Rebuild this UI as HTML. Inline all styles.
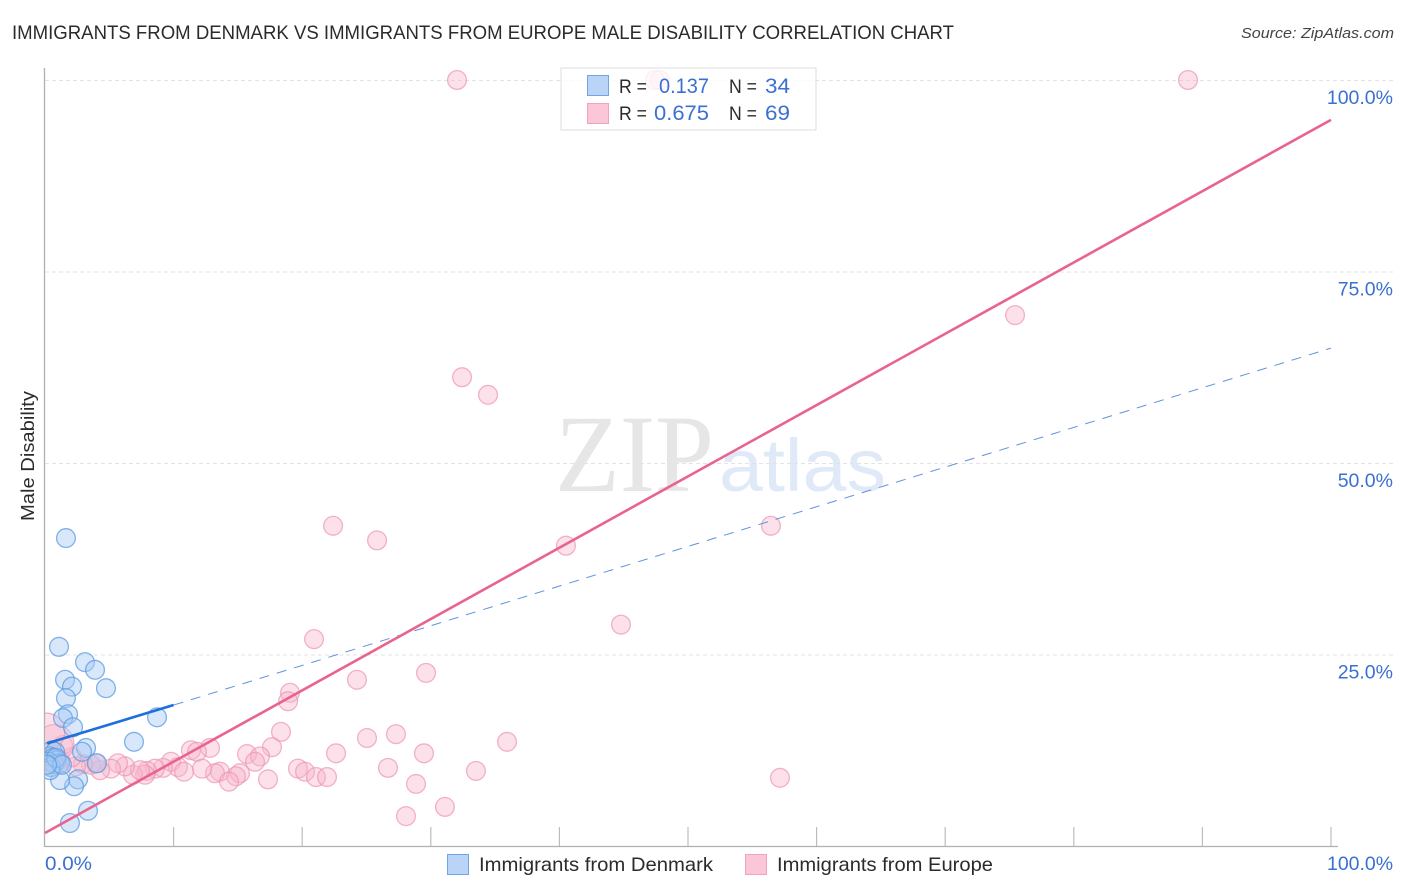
<!DOCTYPE html>
<html lang="en">
<head>
<meta charset="utf-8">
<title>Immigrants from Denmark vs Immigrants from Europe Male Disability Correlation Chart</title>
<style>
  html, body { margin: 0; padding: 0; background: #fff; }
  svg { display: block; font-family: "Liberation Sans", sans-serif; }
</style>
</head>
<body>
<svg id="chart" width="1406" height="892" viewBox="0 0 1406 892" xmlns="http://www.w3.org/2000/svg">
  <defs>
    <clipPath id="plot-clip"><rect x="45" y="60" width="1300" height="786"></rect></clipPath>
  </defs>
  <rect x="0" y="0" width="1406" height="892" fill="#ffffff"></rect>
  <text x="12" y="39" font-size="19.5" fill="#2b2b2b" textLength="942" lengthAdjust="spacingAndGlyphs">IMMIGRANTS FROM DENMARK VS IMMIGRANTS FROM EUROPE MALE DISABILITY CORRELATION CHART</text>
  <text x="1241" y="38" font-size="15" font-style="italic" fill="#444444" textLength="153" lengthAdjust="spacingAndGlyphs">Source: ZipAtlas.com</text>
  <g>
    <text x="555" y="491" font-family="'Liberation Serif', serif" font-size="110" fill="#e6e6e6" textLength="159" lengthAdjust="spacingAndGlyphs">ZIP</text>
    <text x="719" y="491" font-size="74" fill="#dfe9f7" textLength="167" lengthAdjust="spacingAndGlyphs">atlas</text>
  </g>
  <g id="grid"></g>
  <g id="axes"></g>
  <g id="points" clip-path="url(#plot-clip)"></g>
  <g id="trends"></g>
  <text transform="translate(34 456) rotate(-90)" text-anchor="middle" font-size="18.5" fill="#2b2b2b" textLength="130" lengthAdjust="spacingAndGlyphs">Male Disability</text>
  <g>
    <rect x="561" y="68" width="255" height="62" fill="#ffffff" fill-opacity="0.8" stroke="#dddddd" stroke-width="1"></rect>
    <rect x="587.5" y="75.5" width="21" height="20" fill="#b9d4f7" stroke="#6fa5e6"></rect>
    <rect x="587.5" y="103.5" width="21" height="20" fill="#fbc7d8" stroke="#efa4bd"></rect>
    <text x="619" y="93" font-size="19" fill="#2b2b2b" textLength="28" lengthAdjust="spacingAndGlyphs">R =</text>
    <text x="659" y="93" font-size="21" fill="#3a70d2" textLength="50" lengthAdjust="spacingAndGlyphs">0.137</text>
    <text x="729" y="93" font-size="19" fill="#2b2b2b" textLength="28" lengthAdjust="spacingAndGlyphs">N =</text>
    <text x="765" y="93" font-size="21" fill="#3a70d2" textLength="25" lengthAdjust="spacingAndGlyphs">34</text>
    <text x="619" y="120" font-size="19" fill="#2b2b2b" textLength="28" lengthAdjust="spacingAndGlyphs">R =</text>
    <text x="654" y="120" font-size="21" fill="#3a70d2" textLength="55" lengthAdjust="spacingAndGlyphs">0.675</text>
    <text x="729" y="120" font-size="19" fill="#2b2b2b" textLength="28" lengthAdjust="spacingAndGlyphs">N =</text>
    <text x="765" y="120" font-size="21" fill="#3a70d2" textLength="25" lengthAdjust="spacingAndGlyphs">69</text>
  </g>
  <g>
    <rect x="447.5" y="854.5" width="21" height="20" fill="#b9d4f7" stroke="#6fa5e6"></rect>
    <text x="479" y="871" font-size="19.5" fill="#2b2b2b" textLength="234" lengthAdjust="spacingAndGlyphs">Immigrants from Denmark</text>
    <rect x="745.5" y="854.5" width="21" height="20" fill="#fbc7d8" stroke="#efa4bd"></rect>
    <text x="777" y="871" font-size="19.5" fill="#2b2b2b" textLength="216" lengthAdjust="spacingAndGlyphs">Immigrants from Europe</text>
  </g>
</svg>
<script>
const xTicks = [10, 20, 30, 40, 50, 60, 70, 80, 90, 100];
const yTicks = [25, 50, 75, 100];
const yTickLabels = ["25.0%", "50.0%", "75.0%", "100.0%"];
const xEndValues = [0, 100];
const xEndLabels = ["0.0%", "100.0%"];

const denmarkX = [1.63, 1.09, 3.11, 3.89, 4.74, 1.56, 2.10, 1.63, 1.79, 1.40, 8.71, 2.18, 6.92, 3.19, 2.88, 4.04, 2.57, 2.26, 1.17, 3.34, 1.94, 0.54, 0.78, 0.39, 0.62, 0.93, 0.31, 0.70, 1.17, 0.47, 0.39, 0.86, 1.32, 0.16];
const denmarkY = [40.2, 26.0, 24.0, 23.0, 20.6, 21.7, 20.8, 19.3, 17.2, 16.7, 16.8, 15.5, 13.6, 12.8, 12.3, 10.8, 8.7, 7.8, 8.6, 4.6, 3.0, 12.5, 12.3, 11.7, 11.5, 11.2, 11.0, 10.7, 10.8, 10.3, 9.9, 11.5, 10.6, 10.6];

const europeX = [32.04, 47.43, 47.82, 88.88, 75.43, 32.43, 34.45, 22.40, 25.82, 56.45, 40.51, 44.79, 20.92, 29.63, 24.26, 19.05, 18.90, 18.35, 27.29, 25.04, 35.93, 22.63, 29.47, 17.65, 12.83, 11.35, 11.82, 15.71, 16.72, 16.33, 9.80, 10.34, 26.67, 33.51, 19.67, 20.22, 21.07, 21.93, 57.15, 17.34, 15.16, 14.85, 13.61, 13.22, 14.31, 12.21, 10.81, 28.85, 31.10, 28.07, 9.18, 8.55, 7.93, 7.78, 6.84, 7.39, 6.22, 5.68, 5.13, 4.28, 3.58, 3.97, 2.95, 2.41, 2.10, 1.40, 1.17, 0.78, 0.08];
const europeY = [100, 100, 100, 100, 69.3, 61.2, 58.9, 41.8, 39.9, 41.8, 39.2, 28.9, 27.0, 22.6, 21.7, 20.0, 18.9, 14.9, 14.6, 14.1, 13.6, 12.1, 12.1, 12.9, 12.8, 12.5, 12.3, 12.0, 11.7, 11.0, 11.0, 10.3, 10.2, 9.8, 10.1, 9.7, 9.0, 9.0, 8.9, 8.7, 9.5, 9.1, 9.7, 9.5, 8.4, 10.1, 9.7, 8.1, 5.1, 3.9, 10.2, 10.1, 9.8, 9.3, 9.3, 9.9, 10.4, 10.8, 10.1, 9.9, 10.6, 10.8, 10.7, 10.4, 11.6, 13.2, 11.2, 13.4, 14.9];
const europeWeight = [1, 1, 1, 1, 1, 1, 1, 1, 1, 1, 1, 1, 1, 1, 1, 1, 1, 1, 1, 1, 1, 1, 1, 1, 1, 1, 1, 1, 1, 1, 1, 1, 1, 1, 1, 1, 1, 1, 1, 1, 1, 1, 1, 1, 1, 1, 1, 1, 1, 1, 1, 1, 1, 1, 1, 1, 1, 1, 1, 1, 1, 1, 1, 1, 1, 1, 1, 4, 4];

const denmarkSolidTrendX = [0.16, 10];
const denmarkSolidTrendY = [13.4, 18.4];
const denmarkDashedTrendX = [10, 100];
const denmarkDashedTrendY = [18.4, 65];
const europeTrendX = [0, 100];
const europeTrendY = [1.7, 94.8];

const SVG_NS = "http://www.w3.org/2000/svg";
const scaleX = function (v) { return 45 + v * 12.86; };
const scaleY = function (v) { return 846 - v * 7.66; };
const radiusFor = function (w) { return 9.4 * Math.sqrt(w); };

function make(tag, parent, attrs, text) {
  const el = document.createElementNS(SVG_NS, tag);
  Object.keys(attrs).forEach(function (k) { el.setAttribute(k, attrs[k]); });
  if (text !== undefined) el.textContent = text;
  parent.appendChild(el);
  return el;
}

const gridGroup = document.getElementById("grid");
const axesGroup = document.getElementById("axes");
const pointsGroup = document.getElementById("points");
const trendsGroup = document.getElementById("trends");

yTicks.forEach(function (t, i) {
  const line = make("line", gridGroup, { x1: 45, x2: 1393, y1: scaleY(t) + 0.5, y2: scaleY(t) + 0.5, stroke: "#e3e3e3", "stroke-width": 1, "stroke-dasharray": "4 3" });
  
  
  const label = make("text", axesGroup, { x: 1393, y: scaleY(t) + 24, "text-anchor": "end", "font-size": 19.5, fill: "#3a70d2" }, yTickLabels[i]);
  
  
});

const yAxis = make("line", axesGroup, { x1: 44.5, x2: 44.5, y1: 68, y2: 846.5, stroke: "#b0b0b0", "stroke-width": 1.3 });


const xAxis = make("line", axesGroup, { x1: 44, x2: 1338, y1: 846.5, y2: 846.5, stroke: "#b0b0b0", "stroke-width": 1.3 });



xTicks.forEach(function (t) {
  const tick = make("line", axesGroup, { x1: scaleX(t), x2: scaleX(t), y1: 827, y2: 846, stroke: "#bdbdbd", "stroke-width": 1.2 });
  
  
});

xEndValues.forEach(function (t, i) {
  const anchor = i === 0 ? "start" : "end";
  const px = i === 0 ? scaleX(t) : 1393;
  const label = make("text", axesGroup, { x: px, y: 870, "text-anchor": anchor, "font-size": 19.5, fill: "#3a70d2", textLength: i === 0 ? 47 : 66, lengthAdjust: "spacingAndGlyphs" }, xEndLabels[i]);
  
  
});

europeX.forEach(function (v, i) {
  const dot = make("circle", pointsGroup, { cx: scaleX(v), cy: scaleY(europeY[i]), r: radiusFor(europeWeight[i]), fill: "#f8b4cb", "fill-opacity": 0.4, stroke: "#ec94b2", "stroke-opacity": 0.7, "stroke-width": 1.3 });
  
  
});

denmarkX.forEach(function (v, i) {
  const dot = make("circle", pointsGroup, { cx: scaleX(v), cy: scaleY(denmarkY[i]), r: 9.4, fill: "#a9caf3", "fill-opacity": 0.45, stroke: "#5b9be0", "stroke-opacity": 0.75, "stroke-width": 1.3 });
  
  
});

const dashed = make("line", trendsGroup, { x1: scaleX(denmarkDashedTrendX[0]), y1: scaleY(denmarkDashedTrendY[0]), x2: scaleX(denmarkDashedTrendX[1]), y2: scaleY(denmarkDashedTrendY[1]), stroke: "#5f93dc", "stroke-width": 1, "stroke-dasharray": "10 8" });


const solid = make("line", trendsGroup, { x1: scaleX(denmarkSolidTrendX[0]), y1: scaleY(denmarkSolidTrendY[0]), x2: scaleX(denmarkSolidTrendX[1]), y2: scaleY(denmarkSolidTrendY[1]), stroke: "#1f6fdc", "stroke-width": 2.6 });


const pinkLine = make("line", trendsGroup, { x1: scaleX(europeTrendX[0]), y1: scaleY(europeTrendY[0]), x2: scaleX(europeTrendX[1]), y2: scaleY(europeTrendY[1]), stroke: "#e8648f", "stroke-width": 2.6 });


</script>
</body>
</html>
